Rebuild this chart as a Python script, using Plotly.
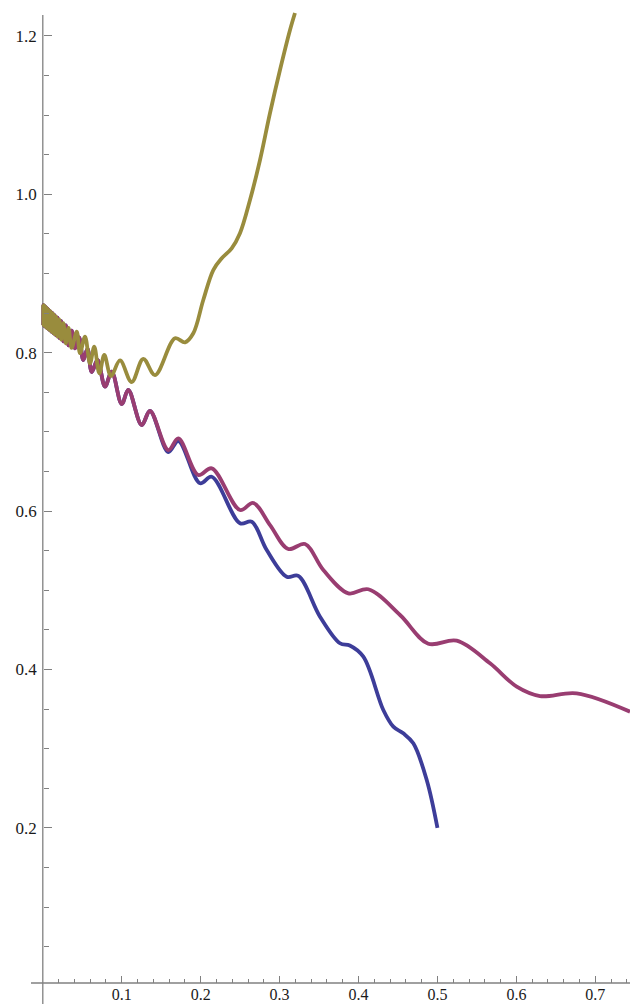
import plotly.graph_objects as go

# ---- data ----
# dense oscillating band near x = 0 (shared x positions of extrema)
band_x = [0.0006, 0.0008, 0.0010, 0.0012, 0.0014, 0.0016, 0.0018, 0.0020, 0.0022, 0.0025,
          0.0028, 0.0031, 0.0035, 0.0039, 0.0044, 0.0049, 0.0055, 0.0061, 0.0068, 0.0077,
          0.0086, 0.0096, 0.0107, 0.0120, 0.0134, 0.0149, 0.0167, 0.0187, 0.0209, 0.0233,
          0.0261, 0.0292, 0.0326, 0.0365]
purple_band_y = [0.8351, 0.8601, 0.8347, 0.8598, 0.8344, 0.8594, 0.8341, 0.8591, 0.8337, 0.8587,
                 0.8332, 0.8581, 0.8326, 0.8575, 0.8318, 0.8566, 0.8310, 0.8555, 0.8300, 0.8540,
                 0.8284, 0.8523, 0.8267, 0.8501, 0.8245, 0.8475, 0.8219, 0.8441, 0.8185, 0.8399,
                 0.8143, 0.8345, 0.8092, 0.8277]
gold_band_y = [0.8603, 0.8349, 0.8599, 0.8346, 0.8596, 0.8342, 0.8593, 0.8339, 0.8589, 0.8335,
               0.8584, 0.8329, 0.8578, 0.8323, 0.8570, 0.8314, 0.8560, 0.8305, 0.8548, 0.8292,
               0.8532, 0.8277, 0.8513, 0.8257, 0.8489, 0.8233, 0.8459, 0.8203, 0.8421, 0.8165,
               0.8373, 0.8119, 0.8314, 0.8061]

# blue and purple coincide here
shared_x = [0.0408, 0.0459, 0.0513, 0.0566, 0.0620, 0.0693, 0.0788, 0.0873, 0.1000, 0.1083,
            0.1253, 0.1358]
shared_y = [0.8056, 0.8192, 0.7908, 0.8047, 0.7756, 0.7908, 0.7571, 0.7760, 0.7352, 0.7529,
            0.7087, 0.7264]

purple_tail_x = [0.1590, 0.1717, 0.1970, 0.2140, 0.2498, 0.2667, 0.2879, 0.3110, 0.3322, 0.3554,
                 0.3871, 0.4124, 0.4526, 0.4884, 0.5244, 0.5666, 0.6004, 0.6299, 0.6764, 0.7440]
purple_tail_y = [0.6771, 0.6919, 0.6456, 0.6540, 0.6014, 0.6102, 0.5824, 0.5521, 0.5585, 0.5256,
                 0.4962, 0.5013, 0.4688, 0.4326, 0.4364, 0.4078, 0.3783, 0.3665, 0.3699, 0.3467]

blue_tail_x = [0.1590, 0.1717, 0.1992, 0.2140, 0.2498, 0.2647, 0.2837, 0.3090, 0.3237, 0.3512,
               0.3765, 0.3889, 0.4061, 0.4314, 0.4441, 0.4567, 0.4694, 0.4864, 0.5000]
blue_tail_y = [0.6746, 0.6885, 0.6351, 0.6434, 0.5846, 0.5866, 0.5509, 0.5172, 0.5181, 0.4667,
               0.4331, 0.4303, 0.4162, 0.3489, 0.3278, 0.3194, 0.3068, 0.2605, 0.2000]

gold_tail_x = [0.0430, 0.0471, 0.0535, 0.0598, 0.0652, 0.0716, 0.0779, 0.0864, 0.0978, 0.1126,
               0.1273, 0.1422, 0.1675, 0.1802, 0.1907, 0.2033, 0.2160, 0.2267, 0.2393, 0.2498,
               0.2625, 0.2752, 0.2878, 0.3005, 0.3132, 0.3195]
gold_tail_y = [0.8265, 0.7996, 0.8202, 0.7866, 0.8076, 0.7740, 0.7971, 0.7706, 0.7902, 0.7630,
               0.7923, 0.7718, 0.8182, 0.8131, 0.8245, 0.8665, 0.9044, 0.9192, 0.9318, 0.9508,
               0.9928, 1.0433, 1.1023, 1.1569, 1.2074, 1.2289]

x_ticks = [0.1, 0.2, 0.3, 0.4, 0.5, 0.6, 0.7]
x_tick_labels = ["0.1", "0.2", "0.3", "0.4", "0.5", "0.6", "0.7"]
x_minor = [0.02, 0.04, 0.06, 0.08, 0.12, 0.14, 0.16, 0.18, 0.22, 0.24, 0.26, 0.28,
           0.32, 0.34, 0.36, 0.38, 0.42, 0.44, 0.46, 0.48, 0.52, 0.54, 0.56, 0.58,
           0.62, 0.64, 0.66, 0.68, 0.72, 0.74]
y_ticks = [0.2, 0.4, 0.6, 0.8, 1.0, 1.2]
y_tick_labels = ["0.2", "0.4", "0.6", "0.8", "1.0", "1.2"]
y_minor = [0.05, 0.10, 0.15, 0.25, 0.30, 0.35, 0.45, 0.50, 0.55, 0.65, 0.70, 0.75,
           0.85, 0.90, 0.95, 1.05, 1.10, 1.15]

BLUE = "#3d3d99"
PURPLE = "#993d71"
GOLD = "#998c3d"
AXIS = "#808080"
LW = 3.8

fig = go.Figure()
fig.add_trace(go.Scatter(x=band_x + shared_x + blue_tail_x,
                         y=purple_band_y + shared_y + blue_tail_y,
                         mode="lines", line=dict(color=BLUE, width=LW, shape="spline")))
fig.add_trace(go.Scatter(x=band_x + shared_x + purple_tail_x,
                         y=purple_band_y + shared_y + purple_tail_y,
                         mode="lines", line=dict(color=PURPLE, width=LW, shape="spline")))
fig.add_trace(go.Scatter(x=band_x + gold_tail_x,
                         y=gold_band_y + gold_tail_y,
                         mode="lines", line=dict(color=GOLD, width=LW, shape="spline")))

W, H = 630, 1004
yfont = dict(family="Liberation Serif, Times New Roman, serif", size=17, color="#1a1a1a")
xfont = dict(family="Liberation Serif, Times New Roman, serif", size=16, color="#1a1a1a")

fig.update_layout(
    width=W, height=H,
    margin=dict(l=0, r=0, t=0, b=0),
    paper_bgcolor="white", plot_bgcolor="white",
    showlegend=False,
    xaxis=dict(range=[-0.05423, 0.74395], anchor="free", position=21 / H,
               showgrid=False, zeroline=False, showline=False,
               tickmode="array", tickvals=x_ticks, ticktext=x_tick_labels,
               ticks="inside", ticklen=7, tickwidth=1, tickcolor=AXIS,
               minor=dict(tickmode="array", tickvals=x_minor, ticks="inside",
                          ticklen=4, tickwidth=1, tickcolor=AXIS),
               tickfont=xfont, ticklabelstandoff=0, automargin=False),
    yaxis=dict(range=[-0.02235, 1.24533], anchor="free", position=42.8 / W,
               showgrid=False, zeroline=False, showline=False,
               tickmode="array", tickvals=y_ticks, ticktext=y_tick_labels,
               ticks="inside", ticklen=8, tickwidth=1, tickcolor=AXIS,
               minor=dict(tickmode="array", tickvals=y_minor, ticks="inside",
                          ticklen=5, tickwidth=1, tickcolor=AXIS),
               tickfont=yfont, ticklabelstandoff=6, automargin=False),
    shapes=[
        dict(type="line", xref="x", yref="paper", x0=0, x1=0, y0=0, y1=(H - 15) / H,
             line=dict(color=AXIS, width=1.3), layer="below"),
        dict(type="line", xref="paper", yref="paper", x0=31 / W, x1=1, y0=21 / H, y1=21 / H,
             line=dict(color=AXIS, width=1.3), layer="below"),
    ],
)

fig.write_html("out.html", config={"displayModeBar": False},
               post_script="document.body.style.margin='0px';document.body.style.overflow='hidden';")
